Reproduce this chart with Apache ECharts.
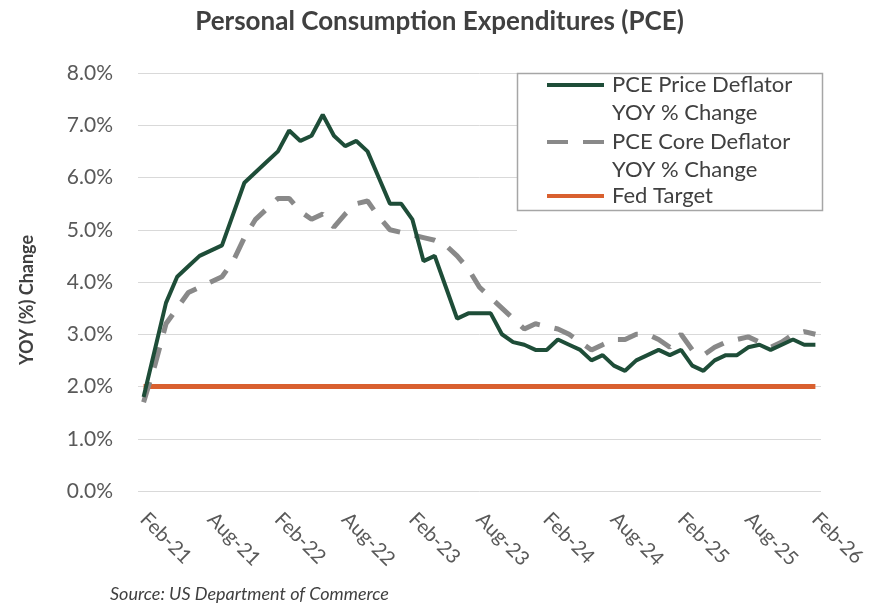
<!DOCTYPE html>
<html>
<head>
<meta charset="utf-8">
<script src="https://cdn.jsdelivr.net/npm/echarts@6/dist/echarts.min.js"></script>
<style>
  html, body { margin: 0; padding: 0; background: #ffffff; }
  #chart { width: 879px; height: 606px; }
</style>
</head>
<body>
<div id="chart"></div>
<script>
const months = [
  'Feb-21','Mar-21','Apr-21','May-21','Jun-21','Jul-21','Aug-21','Sep-21','Oct-21','Nov-21','Dec-21','Jan-22',
  'Feb-22','Mar-22','Apr-22','May-22','Jun-22','Jul-22','Aug-22','Sep-22','Oct-22','Nov-22','Dec-22','Jan-23',
  'Feb-23','Mar-23','Apr-23','May-23','Jun-23','Jul-23','Aug-23','Sep-23','Oct-23','Nov-23','Dec-23','Jan-24',
  'Feb-24','Mar-24','Apr-24','May-24','Jun-24','Jul-24','Aug-24','Sep-24','Oct-24','Nov-24','Dec-24','Jan-25',
  'Feb-25','Mar-25','Apr-25','May-25','Jun-25','Jul-25','Aug-25','Sep-25','Oct-25','Nov-25','Dec-25','Jan-26',
  'Feb-26'
];

const pcePrice = [
  1.8, 2.7, 3.6, 4.1, 4.3, 4.5, 4.6, 4.7, 5.3, 5.9,
  6.1, 6.3, 6.5, 6.9, 6.7, 6.8, 7.2, 6.8, 6.6, 6.7,
  6.5, 6.0, 5.5, 5.5, 5.2, 4.4, 4.5, 3.9, 3.3, 3.4,
  3.4, 3.4, 3.0, 2.85, 2.8, 2.7, 2.7, 2.9, 2.8, 2.7,
  2.5, 2.6, 2.4, 2.3, 2.5, 2.6, 2.7, 2.6, 2.7, 2.4,
  2.3, 2.5, 2.6, 2.6, 2.75, 2.8, 2.7, 2.8, 2.9, 2.8, 2.8
];

const pceCore = [
  1.7, 2.4, 3.2, 3.5, 3.8, 3.9, 4.0, 4.1, 4.4, 4.85,
  5.2, 5.4, 5.6, 5.6, 5.35, 5.2, 5.3, 5.05, 5.3, 5.5,
  5.55, 5.25, 5.0, 4.95, 4.9, 4.85, 4.8, 4.7, 4.5, 4.25,
  3.9, 3.7, 3.5, 3.3, 3.1, 3.2, 3.15, 3.1, 3.0, 2.85,
  2.7, 2.8, 2.9, 2.9, 3.0, 3.0, 2.9, 2.75, 3.0, 2.7,
  2.6, 2.75, 2.85, 2.9, 2.95, 2.85, 2.75, 2.85, 3.0, 3.05, 3.0
];

const fedTarget = [
  2.0, 2.0, 2.0, 2.0, 2.0, 2.0, 2.0, 2.0, 2.0, 2.0,
  2.0, 2.0, 2.0, 2.0, 2.0, 2.0, 2.0, 2.0, 2.0, 2.0,
  2.0, 2.0, 2.0, 2.0, 2.0, 2.0, 2.0, 2.0, 2.0, 2.0,
  2.0, 2.0, 2.0, 2.0, 2.0, 2.0, 2.0, 2.0, 2.0, 2.0,
  2.0, 2.0, 2.0, 2.0, 2.0, 2.0, 2.0, 2.0, 2.0, 2.0,
  2.0, 2.0, 2.0, 2.0, 2.0, 2.0, 2.0, 2.0, 2.0, 2.0, 2.0
];

const seriesNames = ['PCE Price Deflator\nYOY % Change', 'PCE Core Deflator\nYOY % Change', 'Fed Target'];
const titleText = 'Personal Consumption Expenditures (PCE)';
const yAxisName = 'YOY (%) Change';
const sourceText = 'Source: US Department of Commerce';

const FONT = 'Lato, "Open Sans", sans-serif';
const chart = echarts.init(document.getElementById('chart'), null, { renderer: 'canvas' });

const option = {
  animation: false,
  backgroundColor: '#ffffff',
  textStyle: { fontFamily: FONT },
  title: {
    text: titleText,
    left: 'center',
    top: 4,
    textStyle: { fontSize: 26, fontWeight: 'bold', color: '#404040', fontFamily: FONT }
  },
  grid: { left: 138, right: 58, top: 73, bottom: 115, containLabel: false },
  xAxis: {
    type: 'category',
    data: months,
    boundaryGap: true,
    axisLine: { show: false },
    axisTick: { show: false },
    splitLine: { show: false },
    axisLabel: { interval: 5, rotate: -45, margin: 25, fontSize: 20, color: '#595959', fontFamily: FONT }
  },
  yAxis: {
    type: 'value',
    min: 0, max: 8, interval: 1,
    axisLine: { show: false },
    axisTick: { show: false },
    axisLabel: { formatter: v => v.toFixed(1) + '%', fontSize: 21, color: '#595959', margin: 25, fontFamily: FONT },
    splitLine: { lineStyle: { color: '#d9d9d9', width: 1 } },
    name: yAxisName,
    nameLocation: 'middle',
    nameGap: 102,
    nameTextStyle: { fontWeight: 'bold', fontSize: 18, color: '#404040', fontFamily: FONT, padding: [0, 36, 0, 0] }
  },
  legend: {
    orient: 'vertical',
    left: 545,
    top: 43,
    itemWidth: 57,
    itemHeight: 14,
    itemGap: -27,
    padding: 0,
    lineStyle: { width: 4 },
    itemStyle: { color: 'rgba(0,0,0,0)', borderWidth: 0, opacity: 0 },
    textStyle: { fontSize: 22, color: '#404040', lineHeight: 28, padding: [0, 0, 0, 3], fontFamily: FONT },
    formatter: name => (name === 'Fed Target' ? name : '\n' + name),
    data: [
      { name: seriesNames[0] },
      { name: seriesNames[1] },
      { name: seriesNames[2], textStyle: { lineHeight: 78 } }
    ]
  },
  graphic: [
    { type: 'rect', z: 1, shape: { x: 517, y: 73, width: 305, height: 160 }, style: { fill: '#ffffff', stroke: null } },
    { type: 'rect', z: 2, shape: { x: 517.5, y: 73.5, width: 305, height: 137 }, style: { fill: null, stroke: '#a6a6a6', lineWidth: 1.5 } },
    { type: 'text', z: 2, left: 110, top: 585, style: { text: sourceText, font: 'italic 18px ' + FONT, fill: '#404040' } }
  ],
  series: [
    {
      name: seriesNames[0], type: 'line', data: pcePrice, symbol: 'none', z: 4,
      lineStyle: { color: '#1e4d38', width: 4 }, itemStyle: { color: '#1e4d38' }
    },
    {
      name: seriesNames[1], type: 'line', data: pceCore, symbol: 'none', z: 3,
      lineStyle: { color: '#898989', width: 5, type: [21, 15], cap: 'butt' }, itemStyle: { color: '#898989' }
    },
    {
      name: seriesNames[2], type: 'line', data: fedTarget, symbol: 'none', z: 2,
      lineStyle: { color: '#d9602f', width: 5 }, itemStyle: { color: '#d9602f' }
    }
  ]
};
chart.setOption(option);
</script>
</body>
</html>
